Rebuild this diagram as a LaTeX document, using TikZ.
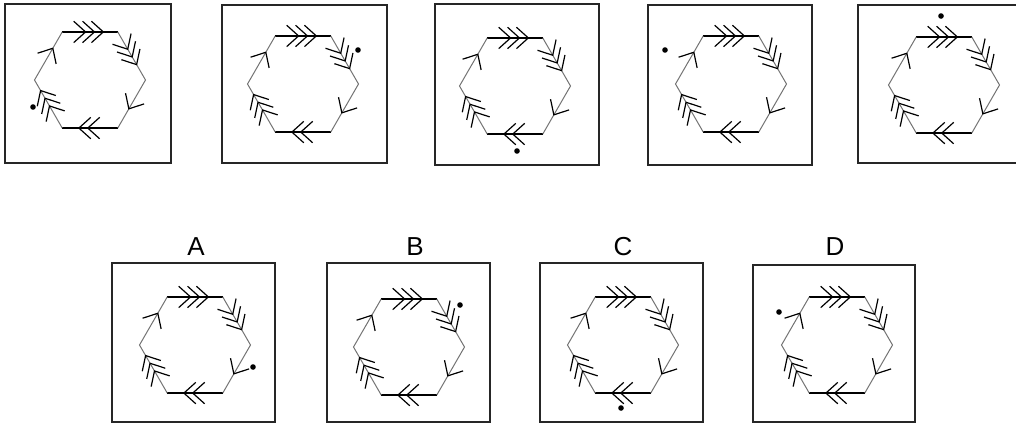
\documentclass[tikz,border=0pt]{standalone}
\usepackage{fontspec}
\setmainfont{Liberation Sans}
\usetikzlibrary{calc}
\tikzset{
  frame/.style={draw=black!85, line width=2.2pt},
  hedge/.style={draw=black, line width=1.3pt},
  dedge/.style={draw=black!55, line width=1pt},
  chev/.style={draw=black, line width=1.2pt},
  dotmark/.style={fill=black},
  letter/.style={font=\fontsize{26}{26}\selectfont, inner sep=0pt}
}
% #1 from, #2 to, #3 count, #4 last tip fraction
\newcommand\chevs[4]{%
  \foreach \k in {1,...,#3}{%
    \pgfmathsetmacro\ff{#4-0.16*(\k-1)}
    \coordinate (t) at ($(#1)!\ff!(#2)$);
    \draw[chev] ($(t)!16pt!42:(#1)$) -- (t) -- ($(t)!16pt!-42:(#1)$);
  }}
% #1 cx, #2 cy, #3 dot x, #4 dot y
\newcommand\hexfig[4]{%
  \begin{scope}[shift={(#1,#2)}]
    \coordinate (v1) at (240:55.5);
    \coordinate (v2) at (300:55.5);
    \coordinate (v3) at (0:55.5);
    \coordinate (v4) at (60:55.5);
    \coordinate (v5) at (120:55.5);
    \coordinate (v6) at (180:55.5);
    \draw[hedge] (v1) -- (v2);
    \draw[hedge] (v4) -- (v5);
    \draw[dedge] (v2) -- (v3) -- (v4);
    \draw[dedge] (v5) -- (v6) -- (v1);
    \chevs{v1}{v2}{3}{0.74}
    \chevs{v2}{v3}{3}{0.68}
    \chevs{v3}{v4}{1}{0.60}
    \chevs{v4}{v5}{2}{0.70}
    \chevs{v5}{v6}{3}{0.78}
    \chevs{v6}{v1}{1}{0.66}
  \end{scope}
  \fill[dotmark] (#3,#4) circle (2.8);
}
\begin{document}
\begin{tikzpicture}[x=1pt,y=-1pt]
  \useasboundingbox (0,0) rectangle (1016,424);
  % top row frames
  \draw[frame] (5,4) rectangle (171,163);
  \draw[frame] (222,5) rectangle (387,163);
  \draw[frame] (435,4) rectangle (599,165);
  \draw[frame] (648,5) rectangle (812,165);
  \draw[frame] (858,5) rectangle (1030,163);
  % bottom row frames
  \draw[frame] (112,263) rectangle (275,422);
  \draw[frame] (327,263) rectangle (490,422);
  \draw[frame] (540,263) rectangle (703,422);
  \draw[frame] (753,265) rectangle (915,422);
  % labels
  \node[letter] (lA) at (196,247) {A};
  \node[letter] (lB) at (415,247) {B};
  \node[letter] (lC) at (623,247) {C};
  \node[letter] (lD) at (835,247) {D};
  % figures
  \hexfig{90}{80}{33}{107}
  \hexfig{303}{84}{358}{50}
  \hexfig{515}{86}{517}{151}
  \hexfig{731}{84}{665}{50}
  \hexfig{944}{85}{941}{16}
  \hexfig{195}{345}{253}{367}
  \hexfig{409}{347}{460}{305}
  \hexfig{623}{345}{621}{408}
  \hexfig{837}{345}{779}{312}
\end{tikzpicture}
\end{document}
